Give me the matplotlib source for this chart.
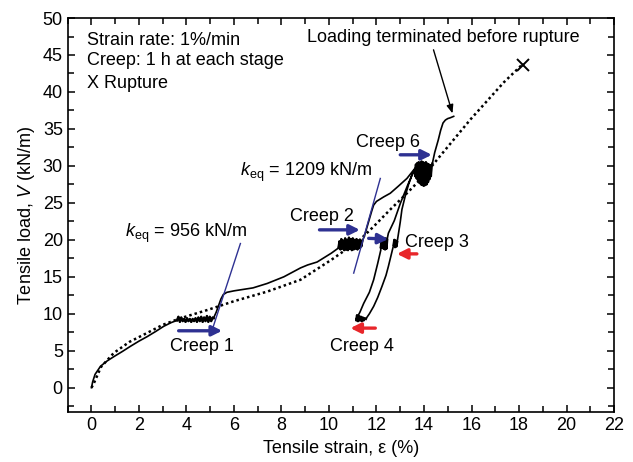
import numpy as np
import matplotlib
matplotlib.use("Agg")
import matplotlib.pyplot as plt
from matplotlib.ticker import MultipleLocator

plt.rcParams['font.family'] = ['Liberation Sans', 'DejaVu Sans']
plt.rcParams['mathtext.fontset'] = 'custom'
plt.rcParams['mathtext.rm'] = 'Liberation Sans'
plt.rcParams['mathtext.it'] = 'Liberation Sans:italic'

# ---- data (strain %, load kN/m) ----
load1_x = [0.0, 0.05, 0.15, 0.38, 0.65, 0.94, 1.3, 1.64, 2.0, 2.34, 2.7, 3.04, 3.35, 3.6]
load1_y = [0.0, 0.8, 1.8, 2.9, 3.6, 4.2, 4.9, 5.6, 6.3, 6.9, 7.6, 8.3, 8.8, 9.1]
creep1_x = [3.60, 3.66, 3.72, 3.78, 3.84, 3.90, 3.96, 4.02, 4.08, 4.14, 4.20, 4.26, 4.32, 4.38,
            4.44, 4.50, 4.56, 4.62, 4.68, 4.74, 4.80, 4.86, 4.92, 4.98, 5.04, 5.10, 5.15]
creep1_y = [9.1, 9.6, 8.9, 9.5, 9.0, 9.3, 8.9, 9.4, 9.0, 9.3, 8.9, 9.3, 9.0, 9.4,
            8.9, 9.5, 9.0, 9.6, 8.9, 9.5, 9.0, 9.7, 8.9, 9.6, 9.0, 9.5, 9.4]
load2_x = [5.15, 5.25, 5.35, 5.45, 5.55, 5.7, 6.0, 6.4, 6.8, 7.4, 8.1, 8.8, 9.1, 9.5, 9.8, 10.1, 10.4]
load2_y = [9.5, 10.2, 11.1, 12.0, 12.6, 12.9, 13.1, 13.3, 13.5, 14.1, 15.0, 16.2, 16.6, 17.0, 17.6, 18.2, 18.9]
creep2_x = [10.40, 10.44, 10.48, 10.52, 10.56, 10.60, 10.64, 10.68, 10.72, 10.76, 10.80, 10.84, 10.88,
            10.92, 10.96, 11.00, 11.04, 11.08, 11.12, 11.16, 11.20, 11.24, 11.28, 11.32, 11.36, 11.40]
creep2_y = [18.9, 19.8, 18.7, 20.1, 18.8, 19.9, 18.6, 20.2, 18.7, 20.0, 18.6, 20.3, 18.8,
            20.1, 18.6, 20.2, 18.7, 20.0, 18.8, 20.1, 18.7, 19.9, 18.9, 20.0, 19.1, 19.8]
load3_x = [11.4, 11.5, 11.6, 11.7, 11.8, 11.88, 12.0, 12.3, 12.58, 12.9, 13.28, 13.5, 13.7]
load3_y = [19.8, 20.6, 21.7, 22.8, 23.9, 24.7, 25.2, 25.8, 26.3, 27.2, 28.3, 29.2, 30.0]
unload1_x = [13.7, 13.55, 13.3, 13.0, 12.75, 12.5, 12.45]
unload1_y = [30.0, 29.2, 27.3, 24.9, 22.6, 20.9, 20.1]
creep3_x = [12.45, 12.42, 12.39, 12.36, 12.33, 12.30, 12.27, 12.24, 12.21, 12.18]
creep3_y = [20.0, 18.8, 20.2, 18.7, 20.1, 18.8, 20.0, 18.9, 19.8, 19.0]
unload2_x = [12.18, 12.05, 11.88, 11.7, 11.46, 11.3, 11.2]
unload2_y = [18.6, 16.8, 14.6, 12.9, 11.4, 10.2, 9.6]
creep4_x = [11.20, 11.15, 11.18, 11.22, 11.26, 11.30, 11.34, 11.38, 11.42, 11.46, 11.50, 11.55]
creep4_y = [9.6, 9.1, 9.8, 9.0, 9.7, 9.1, 9.6, 9.0, 9.5, 9.1, 9.4, 9.3]
reload1_x = [11.55, 11.7, 11.88, 12.05, 12.23, 12.4, 12.5, 12.62, 12.72]
reload1_y = [9.3, 10.0, 11.0, 12.2, 13.7, 15.2, 16.4, 18.0, 19.3]
creepr_x = [12.72, 12.75, 12.78, 12.81, 12.84, 12.87]
creepr_y = [19.3, 20.0, 19.0, 19.9, 19.1, 19.7]
reload2_x = [12.87, 13.0, 13.07, 13.2, 13.35, 13.5, 13.6]
reload2_y = [19.7, 22.4, 24.1, 25.8, 27.5, 28.8, 29.4]
creep6_x = [13.60, 13.63, 13.66, 13.69, 13.72, 13.75, 13.78, 13.81, 13.84, 13.87, 13.90, 13.93, 13.96,
            13.99, 14.02, 14.05, 14.08, 14.11, 14.14, 14.17, 14.20, 14.23, 14.26, 14.29, 14.32, 14.35]
creep6_y = [29.4, 28.6, 30.2, 28.3, 30.4, 28.0, 30.5, 27.7, 30.4, 27.5, 30.6, 27.4, 30.5,
            27.3, 30.4, 27.4, 30.5, 27.5, 30.3, 27.8, 30.2, 28.2, 30.1, 28.6, 30.0, 30.3]
final_x = [14.35, 14.45, 14.6, 14.7, 14.8, 14.9, 15.0, 15.1, 15.25]
final_y = [30.3, 31.8, 33.5, 34.8, 35.8, 36.2, 36.4, 36.5, 36.7]

mono_x = [0.0, 0.1, 0.4, 0.94, 1.6, 2.34, 3.0, 3.75, 4.87, 6.0, 7.4, 8.8, 10.1, 11.3, 11.88,
          12.58, 13.28, 13.98, 14.54, 15.96, 17.36, 18.1]
mono_y = [0.0, 0.6, 2.8, 4.7, 6.2, 7.4, 8.5, 9.4, 10.5, 11.7, 13.0, 14.6, 17.3, 20.0, 21.8,
          24.1, 26.3, 28.6, 30.8, 36.3, 41.3, 43.6]
rupture_x = [18.15]
rupture_y = [43.7]

keq1_x = [5.08, 6.27]
keq1_y = [7.8, 19.5]
keq2_x = [11.04, 12.16]
keq2_y = [15.5, 28.3]

blue_arrows = [((3.67, 7.7), (5.5, 7.7)), ((9.6, 21.35), (11.3, 21.35)),
               ((11.67, 20.2), (12.5, 20.1)), ((13.0, 31.5), (14.33, 31.5))]
red_arrows = [((13.7, 18.1), (12.86, 18.1)), ((11.95, 8.06), (10.9, 8.06))]

path_x = np.concatenate([load1_x, creep1_x, load2_x, creep2_x, load3_x, unload1_x, creep3_x,
                         unload2_x, creep4_x, reload1_x, creepr_x, reload2_x, creep6_x, final_x])
path_y = np.concatenate([load1_y, creep1_y, load2_y, creep2_y, load3_y, unload1_y, creep3_y,
                         unload2_y, creep4_y, reload1_y, creepr_y, reload2_y, creep6_y, final_y])

fig = plt.figure(figsize=(6.33, 4.62), dpi=100)
ax = fig.add_axes([0.107, 0.108, 0.863, 0.853])

blue = '#2e3192'
red = '#e8262a'

ax.plot(mono_x, mono_y, color='black', lw=1.8, linestyle=(0, (1, 1.2)))
ax.plot(path_x, path_y, color='black', lw=1.2)
# thicker creep blobs
for cx, cy in [(creep1_x, creep1_y), (creep2_x, creep2_y), (creep3_x, creep3_y),
               (creep4_x, creep4_y), (creepr_x, creepr_y), (creep6_x, creep6_y)]:
    ax.plot(cx, cy, color='black', lw=1.7)
ax.plot(rupture_x, rupture_y, marker='x', color='black', ms=9, mew=1.4, ls='none')

ax.plot(keq1_x, keq1_y, color=blue, lw=1.0)
ax.plot(keq2_x, keq2_y, color=blue, lw=1.0)

for tail, head in blue_arrows:
    ax.annotate('', xy=head, xytext=tail,
                arrowprops=dict(arrowstyle='-|>,head_length=0.6,head_width=0.3', lw=2.4,
                                color=blue, shrinkA=0, shrinkB=0))
for tail, head in red_arrows:
    ax.annotate('', xy=head, xytext=tail,
                arrowprops=dict(arrowstyle='-|>,head_length=0.6,head_width=0.3', lw=2.4,
                                color=red, shrinkA=0, shrinkB=0))

fs = 13
ax.text(14.8, 47.3, 'Loading terminated before rupture', ha='center', va='center', fontsize=fs)
ax.annotate('', xy=(15.2, 37.1), xytext=(14.4, 45.7),
            arrowprops=dict(arrowstyle='-|>,head_length=0.5,head_width=0.2', lw=1.0,
                            color='black', shrinkA=0, shrinkB=0))

ax.text(-0.2, 47.0, 'Strain rate: 1%/min', fontsize=fs, va='center', ha='left')
ax.text(-0.2, 44.2, 'Creep: 1 h at each stage', fontsize=fs, va='center', ha='left')
ax.text(-0.2, 41.1, 'X Rupture', fontsize=fs, va='center', ha='left')
ax.text(4.66, 5.6, 'Creep 1', fontsize=fs, ha='center', va='center')
ax.text(9.7, 23.1, 'Creep 2', fontsize=fs, ha='center', va='center')
ax.text(14.55, 19.7, 'Creep 3', fontsize=fs, ha='center', va='center')
ax.text(11.4, 5.6, 'Creep 4', fontsize=fs, ha='center', va='center')
ax.text(12.5, 33.1, 'Creep 6', fontsize=fs, ha='center', va='center')
ax.text(1.43, 20.9, r'$k_{\rm eq}$ = 956 kN/m', fontsize=fs, ha='left', va='center')
ax.text(6.27, 29.1, r'$k_{\rm eq}$ = 1209 kN/m', fontsize=fs, ha='left', va='center')

ax.set_xlim(-1, 22)
ax.set_ylim(-3.3, 50)
ax.xaxis.set_major_locator(MultipleLocator(2))
ax.xaxis.set_minor_locator(MultipleLocator(1))
ax.yaxis.set_major_locator(MultipleLocator(5))
ax.yaxis.set_minor_locator(MultipleLocator(2.5))
ax.tick_params(which='both', direction='in', top=True, right=True, labelsize=fs, width=1.1)
ax.tick_params(which='major', length=5)
ax.tick_params(which='minor', length=4)
for s in ax.spines.values():
    s.set_linewidth(1.2)

ax.set_xlabel('Tensile strain, ε (%)', fontsize=fs)
ax.set_ylabel(r'Tensile load, $V$ (kN/m)', fontsize=fs)

fig.savefig('out.png', dpi=100)
